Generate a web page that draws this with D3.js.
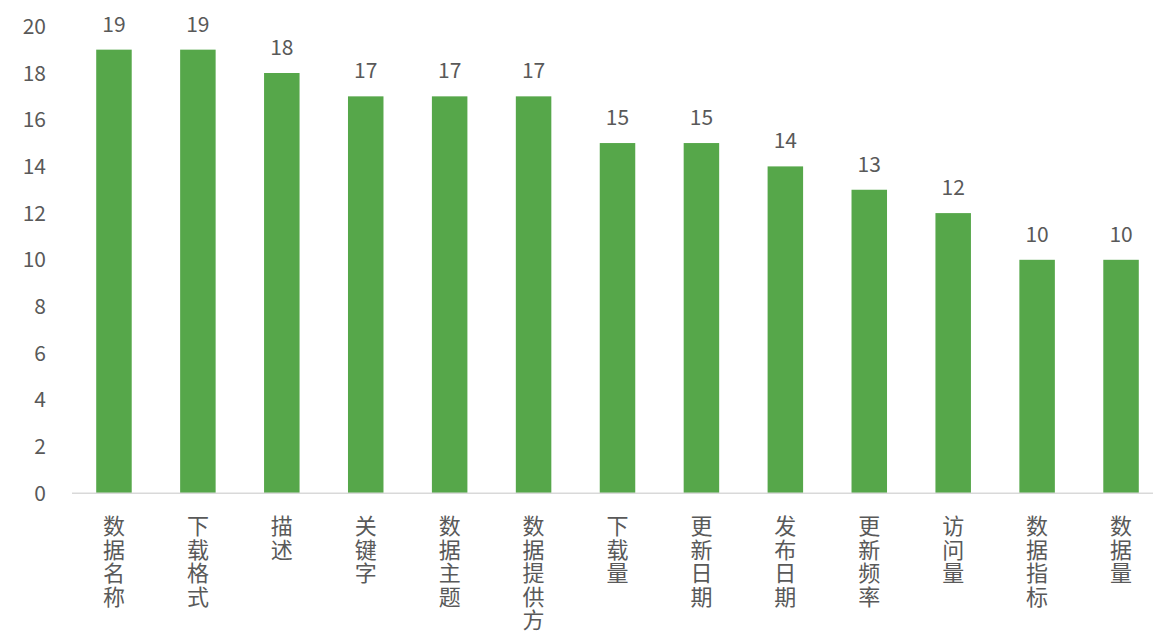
<!DOCTYPE html>
<html><head><meta charset="utf-8">
<script src="https://cdn.jsdelivr.net/npm/d3@7/dist/d3.min.js"></script>
<style>html,body{margin:0;padding:0;background:#fff;overflow:hidden}</style>
</head><body><svg id="chart" width="1153" height="634"></svg>
<script>
const categories = ["数据名称","下载格式","描述","关键字","数据主题","数据提供方","下载量","更新日期","发布日期","更新频率","访问量","数据指标","数据量"];
const values = [19,19,18,17,17,17,15,15,14,13,12,10,10];
const yTicks = [0,2,4,6,8,10,12,14,16,18,20];

const svg = d3.select("#chart");
const font = "'Noto Sans CJK SC','Noto Sans',sans-serif";
const textColor = "#595959";
const x = d3.scaleBand().domain(categories).range([72, 1163]).paddingInner(0.577).paddingOuter(0.2885);
const y = d3.scaleLinear().domain([0, 20]).range([493.3, 26.3]);

// y tick labels
svg.append("g").selectAll("text").data(yTicks).join("text")
  .attr("x", 46).attr("y", d => y(d)).attr("dy", "0.36em")
  .attr("text-anchor", "end").attr("font-family", font).attr("font-size", 21)
  .attr("fill", textColor).text(d => d);

// bars
svg.append("g").selectAll("rect").data(values).join("rect")
  .attr("x", (d, i) => x(categories[i])).attr("width", x.bandwidth())
  .attr("y", d => y(d)).attr("height", d => y(0) - y(d))
  .attr("fill", "#56a74a");

// axis line
svg.append("line").attr("x1", 72).attr("x2", 1163).attr("y1", y(0)).attr("y2", y(0))
  .attr("stroke", "#d9d9d9").attr("stroke-width", 1.5);

// value labels
svg.append("g").selectAll("text").data(values).join("text")
  .attr("x", (d, i) => x(categories[i]) + x.bandwidth() / 2).attr("y", d => y(d) - 18)
  .attr("text-anchor", "middle").attr("font-family", font).attr("font-size", 21)
  .attr("fill", textColor).text(d => d);

// category labels (vertical, one char per line)
const cat = svg.append("g").selectAll("text").data(categories).join("text")
  .attr("font-family", font).attr("font-size", 22).attr("fill", textColor)
  .attr("text-anchor", "middle");
cat.each(function(d) {
  const t = d3.select(this);
  const cx = x(d) + x.bandwidth() / 2;
  Array.from(d).forEach((ch, j) => {
    t.append("tspan").attr("x", cx).attr("y", 534 + j * 23.5).text(ch);
  });
});
</script></body></html>
